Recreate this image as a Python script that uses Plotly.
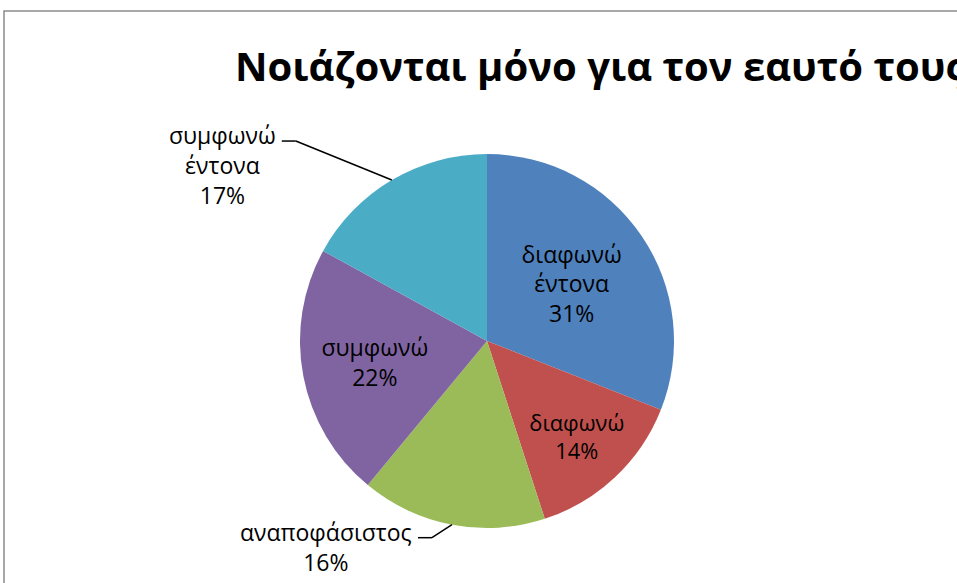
import math

import plotly.graph_objects as go

# data
categories = ["διαφωνώ έντονα", "διαφωνώ", "αναποφάσιστος", "συμφωνώ", "συμφωνώ έντονα"]
values = [31, 14, 16, 22, 17]
colors = ["#4F81BD", "#C0504D", "#9BBB59", "#8064A2", "#4BACC6"]
outside = [False, False, True, False, True]
title_text = "Νοιάζονται μόνο για τον εαυτό τους"

W, H = 957, 583
cx, cy, r = 487, 341, 187  # pie centre / radius in px

font = "Open Sans, Noto Sans, sans-serif"
label_size = 23
total = sum(values)
pcts = [round(v * 100 / total) for v in values]

inside_text = []
for name, p, out in zip(categories, pcts, outside):
    inside_text.append("" if out else name.replace(" ", "<br>") + f"<br>{p}%")

fig = go.Figure(
    go.Pie(
        labels=categories,
        values=values,
        text=inside_text,
        textinfo="text",
        textposition=["none" if o else "inside" for o in outside],
        insidetextorientation="horizontal",
        insidetextfont=dict(family=font, size=label_size, color="#000000"),
        marker=dict(colors=colors, line=dict(width=0)),
        sort=False,
        direction="clockwise",
        rotation=0,
        showlegend=False,
        hoverinfo="label+percent",
        domain=dict(
            x=[(cx - r) / W, (cx + r) / W],
            y=[1 - (cy + r) / H, 1 - (cy - r) / H],
        ),
    )
)

shapes = [
    dict(type="rect", xref="paper", yref="paper",
         x0=4 / W, x1=1.02, y0=-0.02, y1=1 - 11 / H,
         line=dict(color="#8C8C8C", width=1.5), fillcolor="rgba(0,0,0,0)"),
]
annotations = [
    dict(text=f"<b>{title_text}</b>", xref="paper", yref="paper",
         x=233 / W, y=1 - 66 / H, xanchor="left", yanchor="middle",
         showarrow=False, font=dict(family=font, size=40, color="#000000")),
]

# leader lines and labels for the outside slices
cum = 0
for name, v, p, out in zip(categories, values, pcts, outside):
    mid = (cum + v / 2) / total * 2 * math.pi
    cum += v
    if not out:
        continue
    ex, ey = cx + r * math.sin(mid), cy - r * math.cos(mid)
    if math.cos(mid) > 0:  # upper half
        bx, by = ex - 96, ey - 39
    else:
        bx, by = ex - 20, ey + 13
    hx = bx - 14
    for (x0, y0, x1, y1) in [(ex, ey, bx, by), (bx, by, hx, by)]:
        shapes.append(dict(type="line", xref="paper", yref="paper",
                           x0=x0 / W, y0=1 - y0 / H, x1=x1 / W, y1=1 - y1 / H,
                           line=dict(color="#000000", width=1.5)))
    txt = "<br>".join(name.split(" ")) + f"<br>{p}%"
    annotations.append(dict(
        text=txt, xref="paper", yref="paper",
        x=(hx - 4) / W, y=1 - (by - 24) / H,
        xanchor="right", yanchor="top", align="center", showarrow=False,
        font=dict(family=font, size=label_size, color="#000000"),
    ))

fig.update_layout(
    width=W,
    height=H,
    margin=dict(l=0, r=0, t=0, b=0),
    paper_bgcolor="#FFFFFF",
    plot_bgcolor="#FFFFFF",
    shapes=shapes,
    annotations=annotations,
)

fig.write_html(
    "out.html",
    config={"displayModeBar": False},
    post_script="document.body.style.margin='0';",
)
